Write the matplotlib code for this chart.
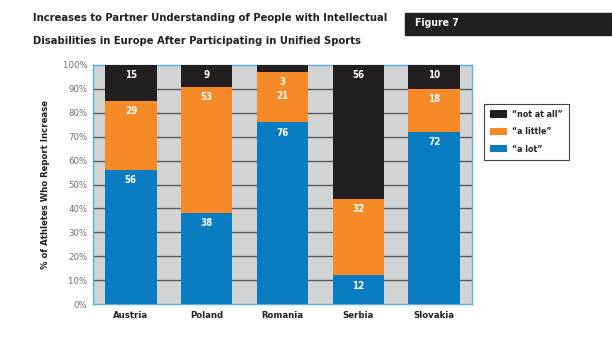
import matplotlib
matplotlib.use("Agg")
import matplotlib.pyplot as plt
import matplotlib.patches as mpatches
import numpy as np

countries = ["Austria", "Poland", "Romania", "Serbia", "Slovakia"]
a_lot = [56, 38, 76, 12, 72]
a_little = [29, 53, 21, 32, 18]
not_at_all = [15, 9, 3, 56, 10]
series_names = ["\u201ca lot\u201d", "\u201ca little\u201d", "\u201cnot at all\u201d"]
yticks = [0, 10, 20, 30, 40, 50, 60, 70, 80, 90, 100]

c_blue = "#0a7dc2"
c_orange = "#f58a27"
c_black = "#231f20"
c_bg = "#d1d3d4"
c_grid = "#58595b"

# condensed bold face for all the heading-like text
cond = dict(family="DejaVu Sans", stretch="condensed", weight="bold")

fig = plt.figure(figsize=(6.12, 3.6), dpi=100)
ax = fig.add_axes([93/612, 1 - 304/360, (472-93)/612, (304-65)/360])
ax.set_facecolor(c_bg)

x = np.arange(len(countries))
w = 0.68
series = [a_lot, a_little, not_at_all]
colors = [c_blue, c_orange, c_black]
bottom = np.zeros(len(countries))
for vals, col, name in zip(series, colors, series_names):
    ax.bar(x, vals, w, bottom=bottom, color=col, label=name, zorder=3)
    bottom = bottom + np.array(vals)

# value labels near the top of each segment
for i in range(len(countries)):
    base = 0
    tops = []
    for vals in series:
        base += vals[i]
        tops.append(base)
    ys = [t - 4.3 for t in tops]
    # tiny top segment: tuck its label under it, push the next one down
    if not_at_all[i] < 6:
        ys[2] = tops[1] - 4.3
        ys[1] = ys[2] - 5.6
    for vals, yy in zip(series, ys):
        ax.text(x[i], yy, str(vals[i]), ha="center", va="center", color="white",
                fontsize=7, zorder=4, **cond)

ax.set_xlim(-0.5, len(countries) - 0.5)
ax.set_ylim(0, 100)
ax.set_yticks(yticks)
ax.set_yticklabels([f"{t}%" for t in yticks], family="DejaVu Sans", stretch="condensed",
                   fontsize=6.8, color="#6d6e71")
for t in yticks[1:-1]:
    ax.axhline(t, color=c_grid, lw=1.0, zorder=1)
ax.tick_params(axis="y", length=0, pad=4)
ax.set_xticks(x)
ax.set_xticklabels(countries, fontsize=6.8, color="#231f20", **cond)
ax.tick_params(axis="x", length=0, pad=5)
for s in ax.spines.values():
    s.set_color("#5aaee6")
    s.set_linewidth(1.0)

ax.set_ylabel("% of Athletes Who Report Increase", fontsize=6.8, color="#231f20",
              labelpad=9, **cond)

h, l = ax.get_legend_handles_labels()
leg = fig.legend(h[::-1], l[::-1], loc="upper left", bbox_to_anchor=(484/612, 1 - 104/360),
                 frameon=True, fancybox=False, edgecolor="#444444", framealpha=1,
                 prop=dict(size=6.3, **cond),
                 handlelength=1.9, handleheight=0.9, labelspacing=0.95, borderpad=0.7,
                 handletextpad=0.6, borderaxespad=0)
leg.get_frame().set_linewidth(0.8)
for t in leg.get_texts():
    t.set_color("#231f20")

fig.text(33/612, 1 - 18/360, "Increases to Partner Understanding of People with Intellectual",
         fontsize=8.0, color="#231f20", va="center", **cond)
fig.text(33/612, 1 - 41/360, "Disabilities in Europe After Participating in Unified Sports",
         fontsize=8.0, color="#231f20", va="center", **cond)

fig.patches.append(mpatches.Rectangle((405/612, 1 - 35/360), (612-405)/612, 22/360,
                                      transform=fig.transFigure, color=c_black, zorder=0))
fig.text(415/612, 1 - 23/360, "Figure 7", fontsize=7.5, color="white", va="center", **cond)

fig.savefig("out.png", dpi=100)
